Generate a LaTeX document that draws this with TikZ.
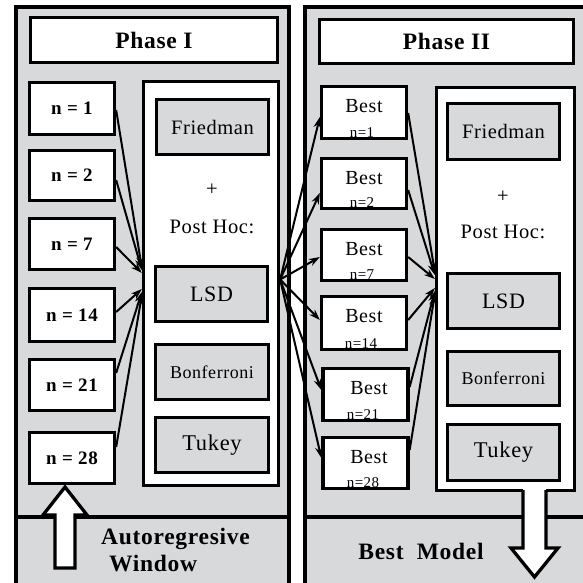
\documentclass[tikz,border=0pt]{standalone}
\usepackage{fontspec}
\setmainfont{Liberation Serif}[LetterSpace=3]
\usetikzlibrary{arrows.meta,calc}
\definecolor{panelgray}{RGB}{216,217,219}
\begin{document}
\begin{tikzpicture}[x=1pt,y=-1pt,
  panel/.style={draw=black,line width=3.3pt,fill=panelgray},
  whitebox/.style={draw=black,line width=3.3pt,fill=white,inner sep=0pt},
  graybox/.style={draw=black,line width=3.3pt,fill=panelgray,inner sep=0pt},
  link/.style={line width=2pt,-{Stealth[length=11pt,width=7.5pt]}},
  hollow/.style={draw=black,line width=3.3pt,line join=miter},
  titlefont/.style={font=\fontsize{23.5}{27}\selectfont\bfseries},
  nfont/.style={font=\fontsize{19}{22}\selectfont\bfseries},
  bestfont/.style={font=\fontsize{20}{23}\selectfont},
  smallfont/.style={font=\fontsize{15}{17}\selectfont},
  testfont/.style={font=\fontsize{20.5}{24}\selectfont},
]
\useasboundingbox (0,0) rectangle (583,582);
\clip (0,0) rectangle (583,582);

% two phase panels with their bottom strips
\draw[panel] (16,7) rectangle (289,600);
\draw[panel] (305,7) rectangle (600,600);
\draw[panel] (16,517) rectangle (289,600);
\draw[panel] (305,517) rectangle (600,600);

% ---------- Phase I ----------
\node[whitebox,titlefont,minimum width=247pt,minimum height=45pt] (title1) at (154,40) {Phase I};

\node[whitebox,nfont,minimum width=85pt,minimum height=52pt] (l1) at (72,108.5) {n = 1};
\node[whitebox,nfont,minimum width=85pt,minimum height=50pt] (l2) at (72,175.5) {n = 2};
\node[whitebox,nfont,minimum width=85pt,minimum height=51pt] (l3) at (72,244) {n = 7};
\node[whitebox,nfont,minimum width=85pt,minimum height=53pt] (l4) at (72,315) {n = 14};
\node[whitebox,nfont,minimum width=85pt,minimum height=51pt] (l5) at (72,385) {n = 21};
\node[whitebox,nfont,minimum width=85pt,minimum height=51pt] (l6) at (72,458) {n = 28};

\node[whitebox,minimum width=135pt,minimum height=404pt] (inner1) at (211,283.5) {};
\node[graybox,testfont,minimum width=112pt,minimum height=55pt] (fr1) at (212.5,127) {Friedman};
\node[testfont] (plus1) at (212,190) {+};
\node[testfont] (post1) at (212,227) {Post Hoc:};
\node[graybox,font=\fontsize{22}{25}\selectfont,minimum width=112pt,minimum height=55pt] (lsd1) at (211.5,294) {LSD};
\node[graybox,font=\fontsize{18}{21}\selectfont,minimum width=113pt,minimum height=55pt] (bon1) at (212,372) {Bonferroni};
\node[graybox,font=\fontsize{22.5}{26}\selectfont,minimum width=113pt,minimum height=55pt] (tuk1) at (212,445) {Tukey};

% ---------- Phase II ----------
\node[whitebox,titlefont,minimum width=254pt,minimum height=44pt] (title2) at (446.5,41.5) {Phase II};

\node[whitebox,minimum width=85pt,minimum height=52pt] (b1) at (364,112.5) {};
\node[whitebox,minimum width=85pt,minimum height=50pt] (b2) at (364,183.5) {};
\node[whitebox,minimum width=85pt,minimum height=51pt] (b3) at (364,255) {};
\node[whitebox,minimum width=85pt,minimum height=53pt] (b4) at (364,323) {};
\node[whitebox,minimum width=85pt,minimum height=52pt] (b5) at (365.5,394.5) {};
\node[whitebox,minimum width=85pt,minimum height=51pt] (b6) at (365.5,463) {};

\foreach \b/\n/\dx/\ndx in {b1/1/0/-2, b2/2/0/-2, b3/7/0/-2, b4/14/0/-3, b5/21/3.5/-2.5, b6/28/3.5/-2.5}{
  \node[bestfont] (\b best) at ($(\b.north)+(\dx,21)$) {Best};
  \node[smallfont] (\b n) at ($(\b.south)+(\ndx,-8)$) {n=\n};
}

\node[whitebox,minimum width=138pt,minimum height=403pt] (inner2) at (505.5,289) {};
\node[graybox,testfont,minimum width=112pt,minimum height=56pt] (fr2) at (503.5,131.5) {Friedman};
\node[testfont] (plus2) at (503,197) {+};
\node[testfont] (post2) at (503,232) {Post Hoc:};
\node[graybox,font=\fontsize{22}{25}\selectfont,minimum width=112pt,minimum height=55pt] (lsd2) at (503.5,301) {LSD};
\node[graybox,font=\fontsize{18}{21}\selectfont,minimum width=112pt,minimum height=54pt] (bon2) at (503.5,378.5) {Bonferroni};
\node[graybox,font=\fontsize{22.5}{26}\selectfont,minimum width=112pt,minimum height=56pt] (tuk2) at (503.5,452.5) {Tukey};

% ---------- strip labels ----------
\node[titlefont,anchor=west,inner sep=0pt] (auto) at (101,539) {Autoregresive};
\node[titlefont,anchor=west,inner sep=0pt] (win) at (109,564) {Window};
\node[titlefont] (bestmodel) at (421,551) {Best\ \ Model};

% ---------- connectors: windows -> Phase I tests ----------
\draw[link] ($(l1.east)+(0,1.5)$) -- ($(inner1.west)+(0,-15.5)$);
\draw[link] ($(l2.east)+(0,4.5)$) -- ($(inner1.west)+(0,-13.5)$);
\draw[link] ($(l3.east)+(0,3)$)   -- ($(inner1.west)+(0,-10.5)$);
\draw[link] ($(l4.east)+(0,-3)$)  -- ($(inner1.west)+(0,5.5)$);
\draw[link] ($(l5.east)+(0,-12)$) -- ($(inner1.west)+(0,8.5)$);
\draw[link] ($(l6.east)+(0,-11)$) -- ($(inner1.west)+(0,11.5)$);

% ---------- connectors: Phase I -> best windows ----------
\coordinate (out1) at ($(inner1.east)+(0,-4)$);
\draw[link] (out1) -- ($(b1.west)+(0,4.5)$);
\draw[link] (out1) -- ($(b2.west)+(0,9.5)$);
\draw[link] (out1) -- ($(b3.west)+(0,2)$);
\draw[link] (out1) -- ($(b4.west)+(0,-3)$);
\draw[link] (out1) -- ($(b5.west)+(0,-4.5)$);
\draw[link] (out1) -- ($(b6.west)+(0,-5)$);

% ---------- connectors: best windows -> Phase II tests ----------
\draw[link] ($(b1.east)+(0,0.5)$) -- ($(inner2.west)+(0,-17)$);
\draw[link] ($(b2.east)+(0,6.5)$) -- ($(inner2.west)+(0,-14)$);
\draw[link] ($(b3.east)+(0,2)$)   -- ($(inner2.west)+(0,-10)$);
\draw[link] ($(b4.east)+(0,-3)$)  -- ($(inner2.west)+(0,-1)$);
\draw[link] ($(b5.east)+(0,-7.5)$) -- ($(inner2.west)+(0,2)$);
\draw[link] ($(b6.east)+(0,-13)$) -- ($(inner2.west)+(0,5)$);

% ---------- block arrows ----------
\fill[white] (55,568) -- (55,515) -- (43,515) -- (65,487) -- (87,515) -- (75,515) -- (75,568) -- cycle;
\draw[hollow] (55,568) -- (55,515) -- (43,515) -- (65,487) -- (87,515) -- (75,515) -- (75,568) -- cycle;

\fill[white] (523,488.5) -- (523,548) -- (511,548) -- (534.5,577) -- (558,548) -- (546,548) -- (546,488.5) -- cycle;
\draw[hollow] (523,490) -- (523,548) -- (511,548) -- (534.5,577) -- (558,548) -- (546,548) -- (546,490);
\end{tikzpicture}
\end{document}
